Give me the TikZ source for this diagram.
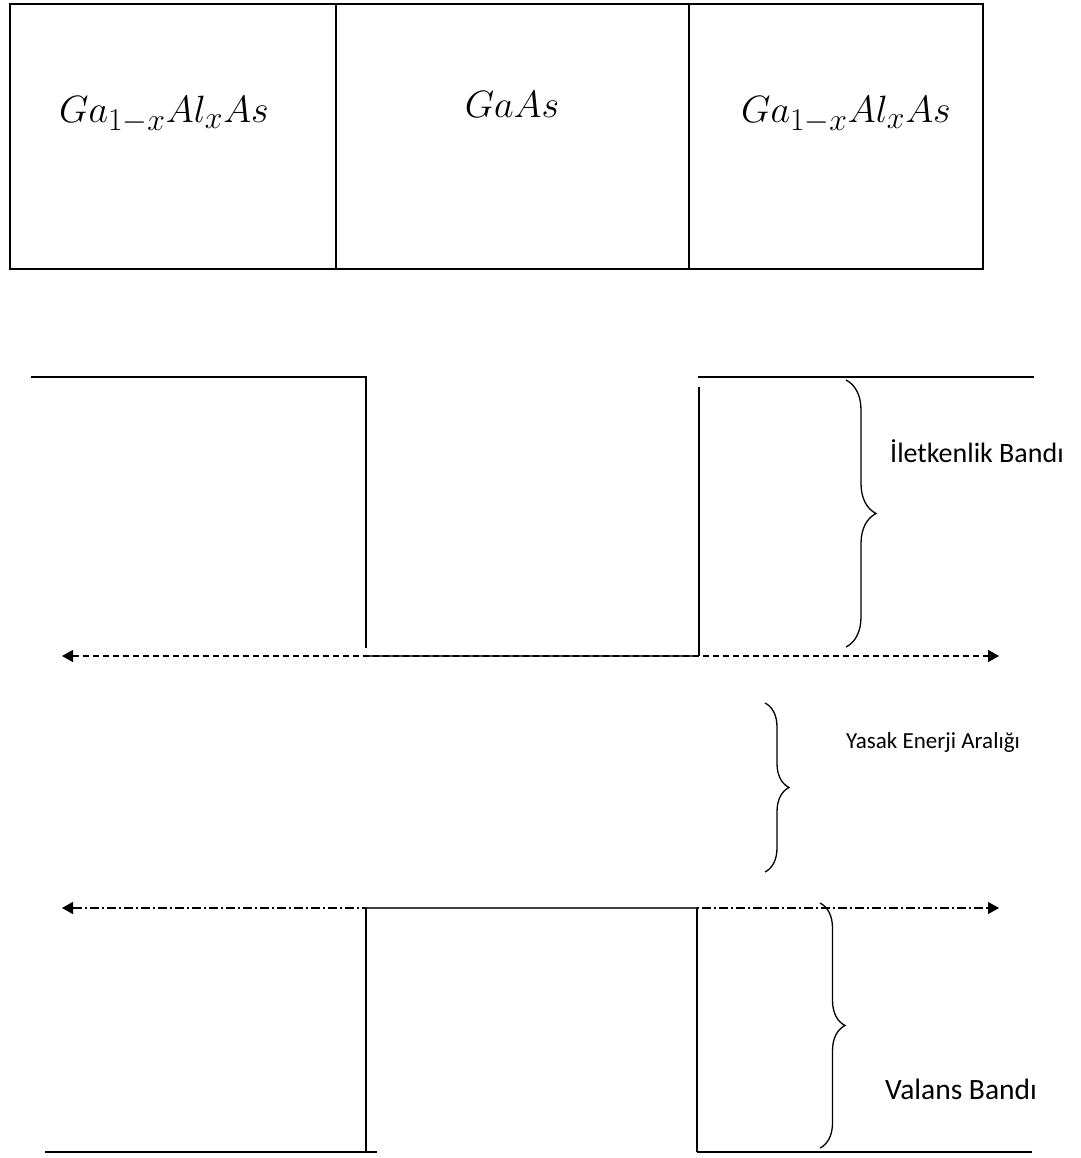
\documentclass[tikz,border=0pt]{standalone}
\usepackage{fontspec}
\setmainfont{Carlito}
\usetikzlibrary{arrows.meta,decorations.pathreplacing}
\newcommand{\bigmath}[1]{\scalebox{1.53}{\fontsize{24.88}{30}\selectfont$#1$}}
\begin{document}
\begin{tikzpicture}[x=1pt,y=-1pt,
  boxline/.style={line width=2.5pt},
  band/.style={line width=1.5pt},
  well/.style={line width=2pt, black!75},
  tip/.style={{Triangle[length=11pt,width=12pt]}-{Triangle[length=11pt,width=12pt]}},
  cbrace/.style={line width=1.3pt, decorate, decoration={brace, amplitude=#1}},
  lbl/.style={anchor=base west, inner sep=0pt},
  mat/.style={anchor=base, inner sep=0pt}]
\useasboundingbox (0,0) rectangle (1080,1158);
% top layer boxes
\coordinate (b1) at (10,4);
\coordinate (b2) at (983,269);
\draw[boxline] (b1) rectangle (b2);
\coordinate (d1t) at (336,4); \coordinate (d1b) at (336,269);
\coordinate (d2t) at (689,4); \coordinate (d2b) at (689,269);
\draw[boxline] (d1t) -- (d1b);
\draw[boxline] (d2t) -- (d2b);
\node[mat] (m1) at (164,123) {\bigmath{Ga_{1-x}Al_xAs}};
\node[mat] (m2) at (512,118) {\bigmath{GaAs}};
\node[mat] (m3) at (846,123) {\bigmath{Ga_{1-x}Al_xAs}};
% conduction band
\coordinate (c1) at (31,377);
\coordinate (c2) at (366,377);
\coordinate (c3) at (366,648);
\coordinate (c4) at (366,656);
\coordinate (c5) at (699,656);
\coordinate (c6) at (699,387);
\coordinate (c7) at (698,377);
\coordinate (c8) at (1034,377);
\draw[band] (c1) -- (c2) -- (c3);
\draw[well] (c4) -- (c5);
\draw[band] (c5) -- (c6);
\draw[band] (c7) -- (c8);
% dashed arrow
\coordinate (a1) at (62,656);
\coordinate (a2) at (999,656);
\draw[tip, line width=1.3pt, dash pattern=on 6pt off 4pt] (a1) -- (a2);
% dash-dot arrow
\coordinate (e1) at (62,908);
\coordinate (e2) at (999,908);
\draw[tip, line width=1.3pt, dash pattern=on 9pt off 3pt on 2pt off 3pt] (e1) -- (e2);
% valence band
\coordinate (v1) at (366,908);
\coordinate (v2) at (697,908);
\coordinate (v3) at (366,1152);
\coordinate (v4) at (697,1152);
\coordinate (v5) at (45,1152);
\coordinate (v6) at (377,1152);
\coordinate (v7) at (1032,1152);
\draw[well] (v1) -- (v2);
\draw[band] (v1) -- (v3);
\draw[band] (v2) -- (v4);
\draw[band] (v5) -- (v6);
\draw[band] (v4) -- (v7);
% braces
\coordinate (br1a) at (846,380); \coordinate (br1b) at (846,647);
\draw[cbrace=30pt] (br1a) -- (br1b);
\coordinate (br2a) at (765,703); \coordinate (br2b) at (765,872);
\draw[cbrace=24pt] (br2a) -- (br2b);
\coordinate (br3a) at (820,903); \coordinate (br3b) at (820,1148);
\draw[cbrace=25pt] (br3a) -- (br3b);
\node[lbl, font=\fontsize{28}{32}\selectfont] (l1) at (890,462) {İletkenlik Bandı};
\node[lbl, font=\fontsize{23}{27}\selectfont] (l2) at (846,748) {Yasak Enerji Aralığı};
\node[lbl, font=\fontsize{29.5}{33}\selectfont] (l3) at (885,1099) {Valans Bandı};
\end{tikzpicture}
\end{document}
